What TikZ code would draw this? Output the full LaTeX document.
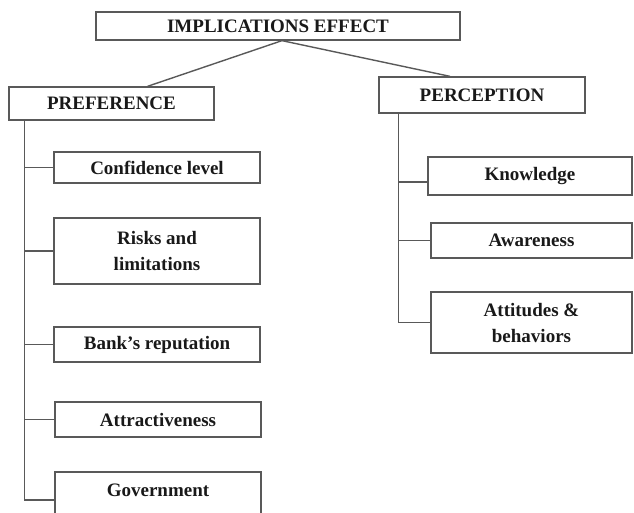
\documentclass[tikz,border=0pt]{standalone}
\usepackage{fontspec}
\setmainfont{Liberation Serif}
\tikzset{
  box/.style={rectangle, draw=black!65, line width=1.3pt, inner sep=0pt, align=center,
    minimum width=206pt, text=black!90, font=\bfseries\fontsize{19}{26}\selectfont},
  link/.style={draw=black!65, line width=1.4pt},
}
\begin{document}
\begin{tikzpicture}[x=1pt,y=-1pt]
	    \clip (0,0) rectangle (634,513);
	    % heads
	    \node[box, minimum width=364pt, minimum height=28pt] (top) at (278,26) {IMPLICATIONS EFFECT};
	    \node[box, minimum width=205pt, minimum height=33pt] (pref) at (111.5,103.5) {PREFERENCE};
	    \node[box, minimum height=36pt] (perc) at (482,95) {PERCEPTION};
	    % preference side
	    \node[box, minimum height=31pt] (conf) at (157,167.5) {Confidence level};
	    \node[box, minimum height=66pt] (risks) at (157,251) {Risks and\\limitations};
	    \node[box, minimum height=35pt] (bank) at (157,344.5) {Bank’s reputation};
	    \node[box, minimum height=35pt] (attr) at (158,419.5) {Attractiveness};
	    \node[box, minimum height=56pt, text depth=20pt] (gov) at (158,500) {Government};
	    % perception side
	    \node[box, minimum width=204pt, minimum height=38pt] (know) at (530,176) {Knowledge};
	    \node[box, minimum width=201pt, minimum height=35pt] (aware) at (531.5,240.5) {Awareness};
	    \node[box, minimum width=201pt, minimum height=61pt] (att) at (531.5,322.5) {Attitudes \&\\behaviors};
	    \draw[link] ([xshift=4pt]top.south) -- ([xshift=36pt]pref.north);
	    \draw[link] ([xshift=4pt]top.south) -- ([xshift=-32pt]perc.north);
	    \coordinate (ltrunk) at ([xshift=16pt]pref.south west);
	    \coordinate (rtrunk) at ([xshift=20pt]perc.south west);
	    \draw[link] (ltrunk) |- (gov.west);
	    \foreach \n in {conf,risks,bank,attr}
		\draw[link] (ltrunk |- \n.west) -- (\n.west);
	    \draw[link] (rtrunk) |- (att.west);
	    \draw[link] ([yshift=-6pt]rtrunk |- know.west) -- ([yshift=-6pt]know.west);
	    \draw[link] (rtrunk |- aware.west) -- (aware.west);
	\end{tikzpicture}
\end{document}
